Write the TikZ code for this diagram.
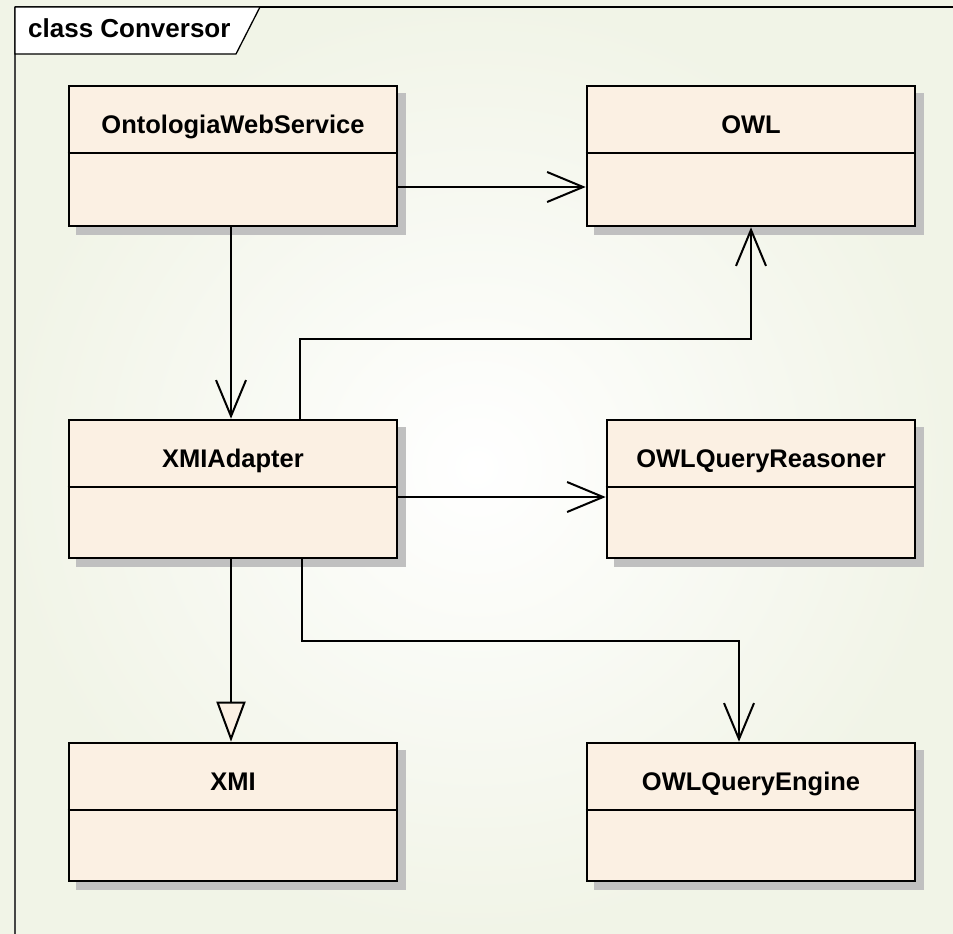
\documentclass[tikz,border=0pt]{standalone}
\usepackage{fontspec}
\setmainfont{Liberation Sans}
\usetikzlibrary{arrows.meta,shadows}
\definecolor{boxfill}{RGB}{251,240,227}
\definecolor{shadowgray}{RGB}{192,192,192}
\definecolor{bgouter}{RGB}{241,244,231}
\definecolor{framegray}{RGB}{70,70,70}
\begin{document}
\begin{tikzpicture}[x=1pt,y=-1pt,
  umlbox/.style={draw=black, line width=2.6pt, fill=boxfill, minimum width=328pt, inner sep=0pt,
    copy shadow={shadow xshift=8pt, shadow yshift=-8pt, fill=shadowgray, draw=shadowgray, opacity=1}},
  classtitle/.style={anchor=base, inner sep=0pt, font=\fontsize{25.5}{30}\selectfont\bfseries},
  divider/.style={line width=2.4pt},
  assoc/.style={line width=2pt, -{Straight Barb[length=36pt, width=30pt]}},
  gen/.style={line width=2pt, -{Triangle[length=40pt, width=29pt, fill=boxfill, line width=2pt]}}
  ]
\useasboundingbox (0,0) rectangle (953,934);
\shade[inner color=white, outer color=bgouter] (0,0) rectangle (953,934);
% frame
\draw[line width=1.6pt, black] (15,7) -- (953,7);
\draw[line width=1.6pt, framegray] (15,7) -- (15,934);
\draw[line width=1.3pt, fill=white] (15,7) -- (260,7) -- (236,54) -- (15,54) -- cycle;
\node[anchor=base west, inner sep=0pt, font=\fontsize{26}{30}\selectfont\bfseries] (frameT) at (28,38) {class Conversor};

% classes
\node[umlbox, minimum height=140pt] (ows) at (233,156) {};
\node[umlbox, minimum height=140pt] (owl) at (751,156) {};
\node[umlbox, minimum height=138pt] (xa) at (233,489) {};
\node[umlbox, minimum width=308pt, minimum height=138pt] (oqr) at (761,489) {};
\node[umlbox, minimum height=138pt] (xmi) at (233,812) {};
\node[umlbox, minimum height=138pt] (oqe) at (751,812) {};

\foreach \n/\t in {ows/OntologiaWebService, owl/OWL, xa/XMIAdapter, oqr/OWLQueryReasoner, xmi/XMI, oqe/OWLQueryEngine}{
  \node[classtitle] (\n T) at ([yshift=-49pt]\n.north) {\t};
  \draw[divider] ([yshift=-68pt]\n.north west) -- ([yshift=-68pt]\n.north east);
}

% connectors
\draw[assoc] ([yshift=-31pt]ows.east) -- ([yshift=-31pt]owl.west);
\draw[assoc] ([xshift=-2pt]ows.south) -- ([xshift=-2pt]xa.north);
\draw[assoc] ([xshift=67pt]xa.north) -- ++(0,-80) -| (owl.south);
\draw[assoc] ([yshift=-8pt]xa.east) -- ([yshift=-8pt]oqr.west);
\draw[assoc] ([xshift=69pt]xa.south) -- ++(0,82) -| ([xshift=-12pt]oqe.north);
\draw[gen] ([xshift=-2pt]xa.south) -- ([xshift=-2pt]xmi.north);
\end{tikzpicture}
\end{document}
